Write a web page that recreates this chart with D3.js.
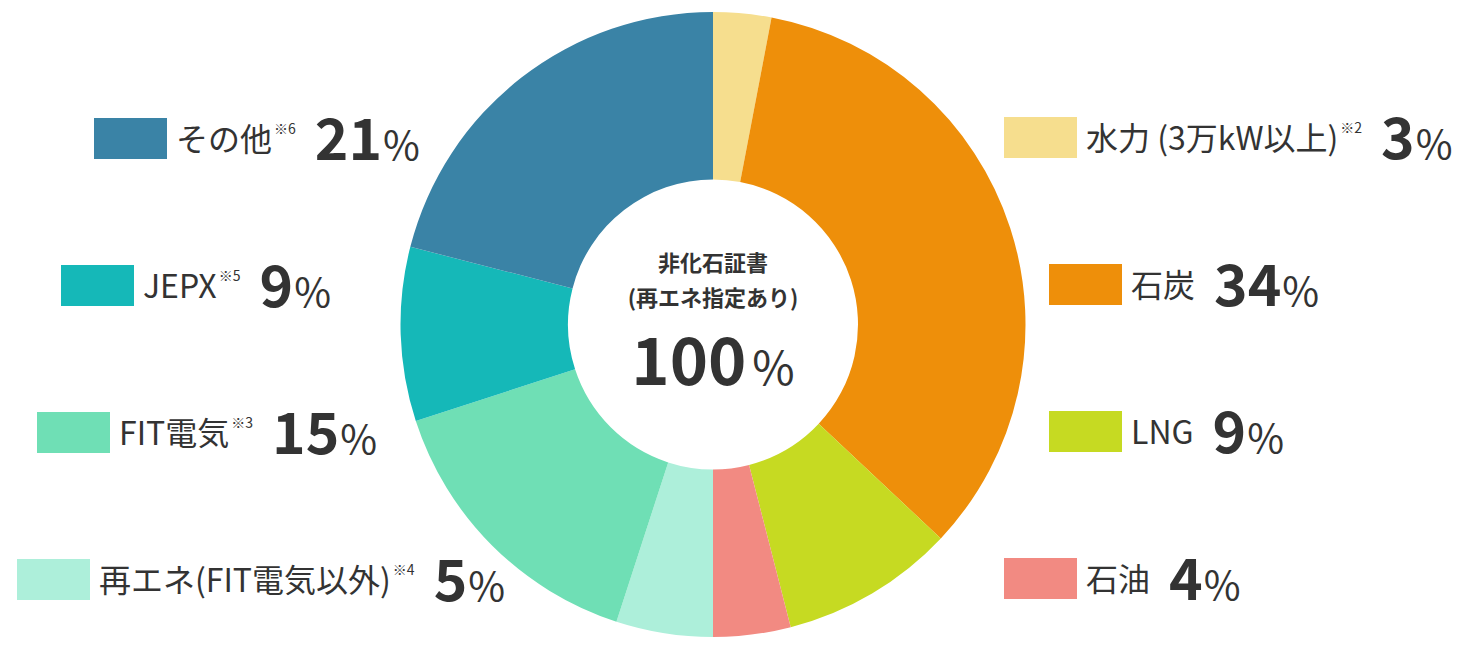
<!DOCTYPE html>
<html>
<head>
<meta charset="utf-8">
<script src="https://cdn.jsdelivr.net/npm/d3@7"></script>
<style>
  body { margin: 0; background: #fff; }
  text { font-family: "Noto Sans CJK JP", "Noto Sans", sans-serif; fill: #333; }
</style>
</head>
<body>
<script>
// Data: clockwise from 12 o'clock
const categories = ["水力 (3万kW以上)", "石炭", "LNG", "石油", "再エネ(FIT電気以外)", "FIT電気", "JEPX", "その他"];
const notes = ["※2", "", "", "", "※4", "※3", "※5", "※6"];
const shares = [3, 34, 9, 4, 5, 15, 9, 21];
const colors = ["#f6de8e", "#ee8f0a", "#c6da22", "#f28a82", "#adefda", "#6fdfb5", "#15b8b8", "#3a83a6"];
const centerLines = ["非化石証書", "(再エネ指定あり)"];
const centerTotal = "100";

// Legend layout (left edge of swatch, top of swatch)
const legendPos = [
  [1004, 117], [1049, 264], [1049, 411], [1004, 558],
  [17, 559], [37, 412], [61, 265], [94, 118]
];

const width = 1470;
const height = 650;
const cx = 713, cy = 324.5;
const outerR = 312.5, innerR = 145;

const svg = d3.select("body").append("svg")
    .attr("width", width)
    .attr("height", height)
    .attr("viewBox", [0, 0, width, height]);

const data = categories.map((c, i) => ({ name: c, note: notes[i], value: shares[i], color: colors[i] }));

const pie = d3.pie().value(d => d.value).sort(null);
const arc = d3.arc().innerRadius(innerR).outerRadius(outerR);

// Donut slices
svg.append("g")
    .attr("transform", `translate(${cx},${cy})`)
  .selectAll("path")
  .data(pie(data))
  .join("path")
    .attr("d", arc)
    .attr("fill", d => d.data.color);

// Center label
const center = svg.append("g").attr("text-anchor", "middle");
center.selectAll("text.line")
  .data(centerLines)
  .join("text")
    .attr("class", "line")
    .attr("x", cx)
    .attr("y", (d, i) => 271 + i * 35)
    .attr("font-size", 22)
    .attr("font-weight", 700)
    .text(d => d);

const tot = center.append("text")
    .attr("x", cx)
    .attr("y", 385);
tot.append("tspan").attr("font-size", 65).attr("font-weight", 700).text(centerTotal);
tot.append("tspan").attr("dx", 6).attr("font-size", 46).attr("font-weight", 400).text("%");

// Legend items
const sw = 73, sh = 41;
data.forEach((d, i) => {
  const [x, y] = legendPos[i];
  const g = svg.append("g");
  g.append("rect")
      .attr("x", x).attr("y", y)
      .attr("width", sw).attr("height", sh)
      .attr("fill", d.color);

  let tx = x + sw + 9;
  const label = g.append("text")
      .attr("x", tx).attr("y", y + sh - 8)
      .attr("font-size", 32)
      .text(d.name);
  tx += label.node().getComputedTextLength();

  if (d.note) {
    const n = g.append("text")
        .attr("x", tx + 2).attr("y", y + 16)
        .attr("font-size", 14)
        .text(d.note);
    tx += 2 + n.node().getComputedTextLength();
  }
  tx += 19;

  const num = g.append("text")
      .attr("x", tx).attr("y", y + sh + 1)
      .attr("font-size", 57)
      .attr("font-weight", 700)
      .text(d.value);
  tx += num.node().getComputedTextLength() + 1;

  g.append("text")
      .attr("x", tx).attr("y", y + sh + 1)
      .attr("font-size", 40)
      .text("%");
});
</script>
</body>
</html>
